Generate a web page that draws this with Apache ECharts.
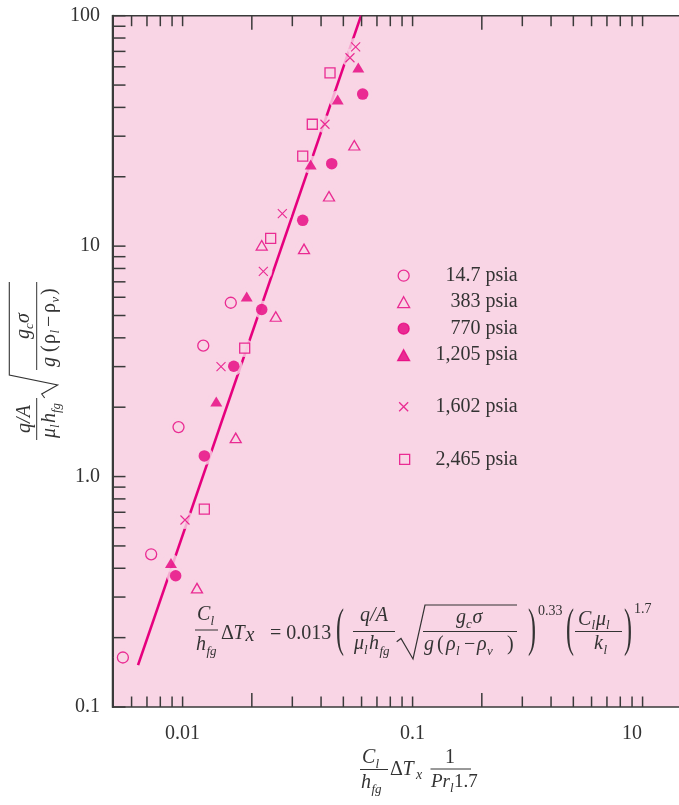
<!DOCTYPE html>
<html><head><meta charset="utf-8">
<script src="https://cdn.jsdelivr.net/npm/echarts@6/dist/echarts.min.js"></script>
<style>html,body{margin:0;padding:0;background:#fff}#c{width:679px;height:805px}</style>
</head><body><div id="c"></div>
<script>
// ---- data ----
const seriesNames = ['14.7 psia', '383 psia', '770 psia', '1,205 psia', '1,602 psia', '2,465 psia'];
const p147X = [0.0055, 0.0073, 0.0096, 0.0123, 0.0162];
const p147Y = [0.164, 0.46, 1.64, 3.7, 5.68];
const p383X = [0.01155, 0.01702, 0.02541, 0.02208, 0.03372, 0.04331, 0.05579];
const p383Y = [0.328, 1.472, 4.95, 10.08, 9.73, 16.46, 27.4];
const p770X = [0.00933, 0.01243, 0.01669, 0.02208, 0.03329, 0.04451, 0.06067];
const p770Y = [0.371, 1.229, 3.01, 5.31, 12.94, 22.8, 45.7];
const p1205X = [0.0089, 0.01401, 0.019, 0.03606, 0.04724, 0.05807];
const p1205Y = [0.422, 2.116, 6.05, 22.6, 43.3, 59.6];
const p1602X = [0.01024, 0.01469, 0.02244, 0.02714, 0.04159, 0.05342, 0.05656];
const p1602Y = [0.648, 3.0, 7.77, 13.84, 33.8, 65.7, 73.3];
const p2465X = [0.01243, 0.01862, 0.02415, 0.03329, 0.03664, 0.04375];
const p2465Y = [0.723, 3.61, 10.81, 24.56, 33.8, 56.5];
const fitX = [0.0064, 0.0597];
const fitY = [0.152, 100];

// axis ticks / labels
const xLabelValues = [0.01, 0.1, 1];
const xLabelTexts = ['0.01', '0.1', '10'];
const yLabelValues = [0.1, 1, 10, 100];
const yLabelTexts = ['0.1', '1.0', '10', '100'];
const xTicks = [0.006, 0.007, 0.008, 0.009, 0.01, 0.02, 0.03, 0.04, 0.05, 0.06, 0.07, 0.08, 0.09, 0.1,
                0.2, 0.3, 0.4, 0.5, 0.6, 0.7, 0.8, 0.9, 1];
const xTallTicks = [0.02, 0.2];
const yTicks = [0.1, 0.2, 0.3, 0.4, 0.5, 0.6, 0.7, 0.8, 0.9, 1, 2, 3, 4, 5, 6, 7, 8, 9, 10,
                20, 30, 40, 50, 60, 70, 80, 90, 100];
const X_MIN = 0.004957, X_MAX = 1.777, Y_MIN = 0.1, Y_MAX = 100;

// ---- style ----
const BG = '#f9d5e5', MAG = '#e6007e', TXT = '#333333', AX = '#3a3a3a';
const FF = '"Liberation Serif", "Times New Roman", serif';

function zip(xs, ys) { return xs.map((x, i) => [x, ys[i]]); }
function matchLabel(v, vals, texts) {
  const lv = Math.log10(v);
  for (let i = 0; i < vals.length; i++) if (Math.abs(lv - Math.log10(vals[i])) < 1e-6) return i;
  return -1;
}
function T(x, b, s, size, it, align) {
  return {type: 'text', x: x, y: b - 0.3 * size, silent: true, z: 100,
    style: {text: s, font: (it ? 'italic ' : '') + size + 'px ' + FF, fill: TXT,
      textAlign: align || 'left', textVerticalAlign: 'middle'}};
}
function P(cx, cy, s) {
  return {type: 'text', x: cx, y: cy, scaleY: 2.2, silent: true, z: 100,
    style: {text: s, font: '24px ' + FF, fill: TXT, textAlign: 'center', textVerticalAlign: 'middle'}};
}
function HL(x1, x2, y, w) {
  return {type: 'line', silent: true, z: 100, shape: {x1: x1, y1: y, x2: x2, y2: y},
    style: {stroke: TXT, lineWidth: w || 1}};
}
function PL(pts, w) {
  return {type: 'polyline', silent: true, z: 100, shape: {points: pts},
    style: {stroke: TXT, fill: null, lineWidth: w || 1.1}};
}

const chart = echarts.init(document.getElementById('c'), null, {renderer: 'canvas'});

const allPts = [].concat(zip(p147X, p147Y), zip(p383X, p383Y), zip(p770X, p770Y),
  zip(p1205X, p1205Y), zip(p1602X, p1602Y), zip(p2465X, p2465Y));

// formula inside plot
const formula = [
  T(197, 621, 'C', 20, true), T(210.5, 625, 'l', 13, true), HL(195, 218, 630),
  T(196, 651, 'h', 20, true), T(206.5, 655, 'fg', 13, true),
  T(221, 640, 'Δ', 20, false), T(233.5, 640, 'T', 20, true), T(245.5, 642, 'x', 20, true),
  T(270, 640, '= 0.013', 20, false),
  P(340, 631, '('),
  T(374, 622, 'q/A', 20, true, 'center'), HL(353, 395, 631.5),
  T(354, 650, 'μ', 20, true), T(364, 654, 'l', 13, true), T(369, 650, 'h', 20, true), T(379.5, 655, 'fg', 13, true),
  PL([[396.7, 641.7], [401, 638.5], [413, 659], [425, 605], [517, 605]], 1.2),
  T(456, 624, 'g', 20, true), T(466, 628, 'c', 13, true), T(472.5, 624, 'σ', 20, true),
  HL(423, 517, 631.5),
  T(424, 651, 'g', 20, true), T(437, 651, '(', 20, false), T(446, 651, 'ρ', 20, true),
  T(456, 655, 'l', 13, true), T(464, 651, '−', 20, false), T(477, 651, 'ρ', 20, true),
  T(487, 655, 'v', 13, true), T(507, 651, ')', 20, false),
  P(532, 631, ')'), T(538, 616, '0.33', 14, false),
  P(570, 631, '('),
  T(578, 626, 'C', 20, true), T(591.5, 629, 'l', 13, true), T(596, 626, 'μ', 20, true), T(606, 629, 'l', 13, true),
  HL(575, 622, 631.5),
  T(594, 650, 'k', 20, true), T(603.5, 654, 'l', 13, true),
  P(628, 631, ')'), T(634, 614, '1.7', 14, false)
];

// x axis name
const xName = [
  T(362, 764, 'C', 20, true), T(375.5, 768, 'l', 13, true), HL(360, 388, 769.5),
  T(361, 789, 'h', 20, true), T(371.5, 793, 'fg', 13, true),
  T(390, 776, 'Δ', 20, false), T(402.5, 776, 'T', 20, true), T(416, 780, 'x', 14, true),
  T(450, 764, '1', 20, false, 'center'), HL(430.5, 471, 769),
  T(431, 788, 'Pr', 19, true), T(450, 792, 'l', 13, true), T(454, 788, '1.7', 19, false)
];

// y axis name (rotated group, local coords u along reading direction, v downward)
const yName = {
  type: 'group', x: 36.7, y: 440, rotation: Math.PI / 2, silent: true,
  children: [
    T(21, -6, 'q/A', 20, true, 'center'), HL(0, 42, 0),
    T(2, 19, 'μ', 20, true), T(12, 23, 'l', 13, true), T(17, 19, 'h', 20, true), T(27, 24, 'fg', 13, true),
    PL([[42, 8], [46, 5], [55, 21], [65, -27.4], [158, -27.4]], 1.1),
    T(101, -7, 'g', 20, true), T(111, -3, 'c', 13, true), T(117, -7, 'σ', 20, true),
    HL(70, 158, 0),
    T(73, 19, 'g', 20, true), T(88, 19, '(', 20, false), T(96, 19, 'ρ', 20, false),
    T(106.5, 23, 'l', 13, true), T(113, 19, '−', 20, false), T(127, 19, 'ρ', 20, false),
    T(137.5, 23, 'v', 13, true), T(145, 19, ')', 20, false)
  ]
};

function legendDef(names, left, top, iw, ih, gap, textW) {
  return {
    data: names, orient: 'vertical', left: left, top: top, itemWidth: iw, itemHeight: ih,
    itemGap: gap, padding: 0, selectedMode: false,
    itemStyle: {borderWidth: 1.3},
    formatter: '{r|{name}}',
    textStyle: {fontFamily: FF, fontSize: 20, color: TXT,
      rich: {r: {width: textW, align: 'right', fontFamily: FF, fontSize: 20, color: TXT}}}
  };
}

const option = {
  animation: false,
  backgroundColor: '#ffffff',
  grid: {left: 112.5, top: 15.7, bottom: 98, right: -21, show: true, backgroundColor: BG,
    borderColor: AX, borderWidth: 1.5, containLabel: false, outerBoundsMode: 'none'},
  xAxis: {
    type: 'log', logBase: 10, min: X_MIN, max: X_MAX,
    axisLine: {show: false}, axisTick: {show: false}, splitLine: {show: false}, minorTick: {show: false},
    axisLabel: {
      margin: 17, fontFamily: FF, fontSize: 20, color: TXT, showMinLabel: false, showMaxLabel: false,
      formatter: function (v) {
        const i = matchLabel(v, xLabelValues, xLabelTexts);
        if (i < 0) return '';
        return i === 2 ? '{s|' + xLabelTexts[i] + '}' : xLabelTexts[i];
      },
      rich: {s: {padding: [0, 21, 0, 0], fontFamily: FF, fontSize: 20, color: TXT}}
    }
  },
  yAxis: {
    type: 'log', logBase: 10, min: Y_MIN, max: Y_MAX,
    axisLine: {show: true, lineStyle: {color: AX, width: 2}}, axisTick: {show: false},
    splitLine: {show: false}, minorTick: {show: false},
    axisLabel: {
      margin: 12.5, fontFamily: FF, fontSize: 20, color: TXT,
      formatter: function (v) {
        const i = matchLabel(v, yLabelValues, yLabelTexts);
        return i < 0 ? '' : yLabelTexts[i];
      }
    }
  },
  legend: [
    legendDef(seriesNames.slice(0, 4), 397, 265.7, 12, 11, 6.5, 103),
    legendDef([seriesNames[4]], 398.5, 396.7, 9, 9, 0, 104.5),
    legendDef([seriesNames[5]], 399, 449.3, 10, 10, 0, 103)
  ],
  graphic: formula.concat(xName, [yName]),
  series: [
    {type: 'line', data: zip(fitX, fitY), symbol: 'none', z: 2, silent: true,
      lineStyle: {color: MAG, width: 2.6}},
    {type: 'scatter', data: allPts, symbol: 'circle', symbolSize: 18, z: 3, silent: true,
      itemStyle: {color: BG}},
    {name: seriesNames[0], type: 'scatter', data: zip(p147X, p147Y), symbol: 'circle', symbolSize: 11, z: 4,
      itemStyle: {color: BG, borderColor: MAG, borderWidth: 1.3}},
    {name: seriesNames[1], type: 'scatter', data: zip(p383X, p383Y), symbol: 'triangle', symbolSize: [11, 9.5], z: 4,
      itemStyle: {color: BG, borderColor: MAG, borderWidth: 1.3}},
    {name: seriesNames[2], type: 'scatter', data: zip(p770X, p770Y), symbol: 'circle', symbolSize: 11.5, z: 4,
      itemStyle: {color: MAG, borderColor: MAG, borderWidth: 0}},
    {name: seriesNames[3], type: 'scatter', data: zip(p1205X, p1205Y), symbol: 'triangle', symbolSize: [12, 10], z: 4,
      itemStyle: {color: MAG, borderColor: MAG, borderWidth: 0}},
    {name: seriesNames[4], type: 'scatter', data: zip(p1602X, p1602Y), symbol: 'path://M0,0L10,10M10,0L0,10',
      symbolSize: 9, z: 4, itemStyle: {color: MAG, borderColor: MAG, borderWidth: 1.1}},
    {name: seriesNames[5], type: 'scatter', data: zip(p2465X, p2465Y), symbol: 'rect', symbolSize: 10, z: 4,
      itemStyle: {color: BG, borderColor: MAG, borderWidth: 1.3}},
    {type: 'custom', silent: true, z: 6, data: xTicks.map(v => [v, Y_MIN, xTallTicks.indexOf(v) >= 0 ? 1 : 0]),
      encode: {x: 0, y: 1},
      renderItem: function (params, api) {
        const v = api.value(0);
        const len = api.value(2) ? 14 : 10.5;
        const pb = api.coord([v, Y_MIN]);
        const pt = api.coord([v, Y_MAX]);
        return {type: 'group', children: [
          {type: 'line', shape: {x1: pb[0], y1: pb[1], x2: pb[0], y2: pb[1] - len}, style: {stroke: AX, lineWidth: 1.5}},
          {type: 'line', shape: {x1: pt[0], y1: pt[1], x2: pt[0], y2: pt[1] + len}, style: {stroke: AX, lineWidth: 1.5}}
        ]};
      }},
    {type: 'custom', silent: true, z: 6, data: yTicks.map(v => [X_MIN, v]),
      encode: {x: 0, y: 1},
      renderItem: function (params, api) {
        const p = api.coord([X_MIN, api.value(1)]);
        return {type: 'line', shape: {x1: p[0], y1: p[1], x2: p[0] + 13, y2: p[1]},
          style: {stroke: AX, lineWidth: 1.5}};
      }}
  ]
};
chart.setOption(option);
</script>
</body></html>
